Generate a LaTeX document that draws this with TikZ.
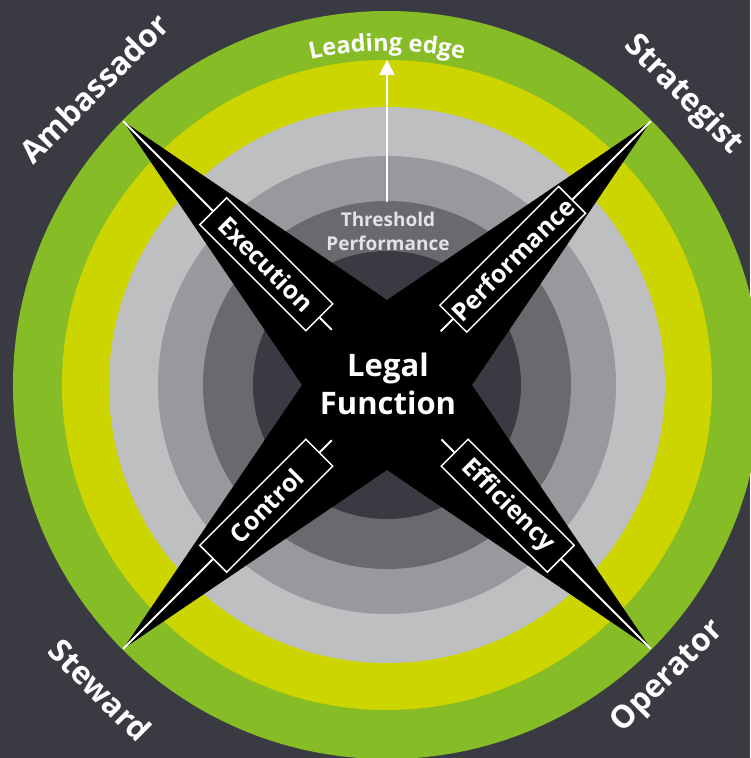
\documentclass[tikz,border=0pt]{standalone}
\usepackage{fontspec}
\setmainfont{Open Sans}
\usetikzlibrary{arrows.meta,decorations.text}
\definecolor{bg}{HTML}{3A3B42}
\definecolor{dgreen}{HTML}{86BC25}
\definecolor{ygreen}{HTML}{CDD500}
\definecolor{lgray}{HTML}{BEBFC1}
\definecolor{mgray}{HTML}{97999C}
\definecolor{dgray}{HTML}{686A6E}
\definecolor{cgray}{HTML}{3A3B42}
\definecolor{thr}{HTML}{E2E3E4}
\begin{document}
\begin{tikzpicture}[x=1pt,y=1pt,
  corner/.style={text=white,font=\bfseries\fontsize{31.5}{36}\selectfont,inner sep=0pt},
  armbox/.style={draw=white,line width=1.5pt,fill=black,text=white,
    font=\bfseries\fontsize{25}{28}\selectfont,minimum width=150pt,
    minimum height=38pt,inner xsep=3pt,inner ysep=0pt},
  armline/.style={draw=white,line width=1.8pt}]
\fill[bg] (-387,-373) rectangle (363,385);
\useasboundingbox (-387,-373) rectangle (363,385);
% rings
\fill[dgreen] (0,0) circle[radius=374];
\fill[ygreen] (0,0) circle[radius=325];
\fill[lgray] (0,0) circle[radius=278];
\fill[mgray] (0,0) circle[radius=229];
\fill[dgray] (0,0) circle[radius=184];
\fill[cgray] (0,0) circle[radius=134];
% star
\fill[black] (45:373) -- (90:85) -- (135:373) -- (180:85) -- (225:373)
  -- (270:85) -- (315:373) -- (0:85) -- cycle;
% tips and stubs
\coordinate (tNE) at (45:373);
\coordinate (tNW) at (135:373);
\coordinate (tSW) at (225:373);
\coordinate (tSE) at (315:373);
\coordinate (sNE) at (45:76);
\coordinate (sNW) at (135:78);
\coordinate (sSW) at (225:78);
\coordinate (sSE) at (315:77);
% arm boxes
\node[armbox,rotate=-45,anchor=east] (bNW) at (135:95) {Execution};
\node[armbox,rotate=45,anchor=west] (bNE) at (45:93) {Performance};
\node[armbox,rotate=45,anchor=east] (bSW) at (225:95) {Control};
\node[armbox,rotate=-45,anchor=west] (bSE) at (315:95) {Efficiency};
\draw[armline] (tNW) -- (bNW.west);
\draw[armline] (bNW.east) -- (sNW);
\draw[armline] (tNE) -- (bNE.east);
\draw[armline] (bNE.west) -- (sNE);
\draw[armline] (tSW) -- (bSW.west);
\draw[armline] (bSW.east) -- (sSW);
\draw[armline] (tSE) -- (bSE.east);
\draw[armline] (bSE.west) -- (sSE);
% centre text
\node[text=white,font=\bfseries\fontsize{31}{38}\selectfont,align=center] (lf) at (1,1) {Legal\\Function};
\node[text=thr,font=\bfseries\fontsize{19}{24}\selectfont,align=center] (thrs) at (1,154) {Threshold\\Performance};
% arrow
\coordinate (aS) at (0,183);
\coordinate (aE) at (0,325);
\draw[white,line width=2.5pt,-{Triangle[width=15pt,length=15pt]}] (aS) -- (aE);
% leading edge
\path[decorate,decoration={text along path,text color=white,text align=center,
  text={|\bfseries\fontsize{23.5}{28}\selectfont|Leading{ }edge}}]
  (110:334) arc[start angle=110,end angle=70,radius=334];
% corner labels
\node[corner,rotate=45] (amb) at (-293,297) {Ambassador};
\node[corner,rotate=-45] (str) at (296,290) {Strategist};
\node[corner,rotate=-45] (stw) at (-287,-305) {Steward};
\node[corner,rotate=45] (opr) at (281,-292) {Operator};
\end{tikzpicture}
\end{document}
